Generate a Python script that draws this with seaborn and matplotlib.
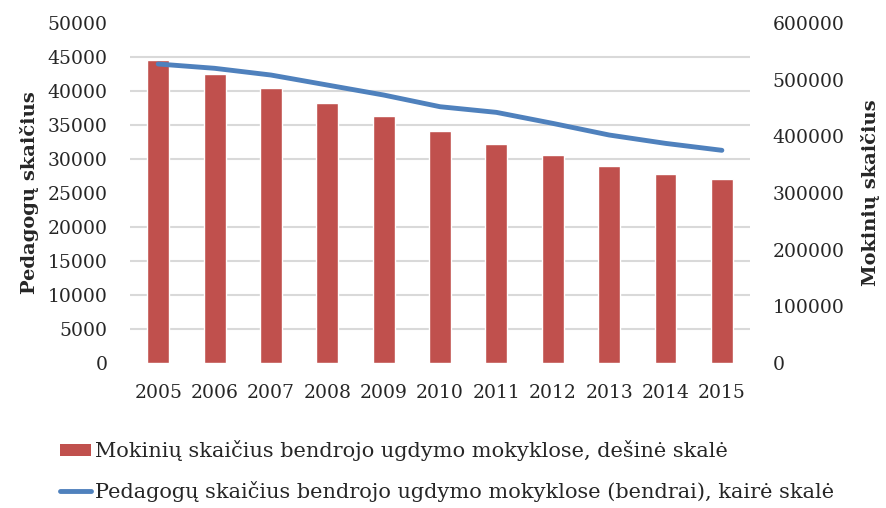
"""
Mokinių ir pedagogų skaičius bendrojo ugdymo mokyklose, 2005-2015
"""
import numpy as np
import pandas as pd
import matplotlib
matplotlib.use('Agg')
import matplotlib.pyplot as plt
from matplotlib.ticker import MultipleLocator
from matplotlib.patches import Patch
from matplotlib.lines import Line2D
import seaborn as sns

# duomenys
years = ['2005', '2006', '2007', '2008', '2009', '2010',
         '2011', '2012', '2013', '2014', '2015']
mokiniai = [534700, 510000, 484800, 458800, 435300, 409400,
            386500, 366500, 347600, 333500, 324200]
pedagogai = [43970, 43340, 42350, 40880, 39410, 37690,
             36860, 35240, 33530, 32300, 31280]

bar_label = 'Mokinių skaičius bendrojo ugdymo mokyklose, dešinė skalė'
line_label = 'Pedagogų skaičius bendrojo ugdymo mokyklose (bendrai), kairė skalė'

BAR_COLOR = '#C0504D'
LINE_COLOR = '#4F81BD'
GRID_COLOR = '#D9D9D9'

sns.set_style('white')
plt.rcParams['font.family'] = ['DejaVu Serif']

df = pd.DataFrame({'metai': years, 'mokiniai': mokiniai, 'pedagogai': pedagogai})
df['pos'] = np.arange(len(df))

fig = plt.figure(figsize=(8.87, 5.08), dpi=100)
ax = fig.add_axes([0.1466, 0.2854, 0.6990, 0.6693])

# stulpeliai - dešinė skalė
sns.barplot(data=df, x='metai', y='mokiniai', color=BAR_COLOR, width=0.39,
            saturation=1, ax=ax)
ax.set_ylim(0, 600000)
ax.set_xlim(-0.5, len(years) - 0.5)
ax.yaxis.set_major_locator(MultipleLocator(100000))
ax.yaxis.set_minor_locator(MultipleLocator(60000))
ax.grid(False)
ax.grid(True, which='minor', axis='y', color=GRID_COLOR, linewidth=1.5)
ax.set_axisbelow(True)
ax.set_xlabel('')

# linija - kairė skalė
ax2 = ax.twinx()
sns.lineplot(data=df, x='pos', y='pedagogai', color=LINE_COLOR, linewidth=3.5,
             solid_capstyle='round', ax=ax2)
ax2.set_ylim(0, 50000)
ax2.yaxis.set_major_locator(MultipleLocator(5000))
ax2.set_xlabel('')
ax2.set_xlim(-0.5, len(years) - 0.5)

# ašių pusės sukeičiamos po twinx
ax.yaxis.set_ticks_position('right')
ax.yaxis.set_label_position('right')
ax2.yaxis.set_ticks_position('left')
ax2.yaxis.set_label_position('left')
ax.set_ylabel('Mokinių skaičius', fontsize=14, fontweight='bold', labelpad=12)
ax2.set_ylabel('Pedagogų skaičius', fontsize=14, fontweight='bold', labelpad=6)

for a in (ax, ax2):
    for s in a.spines.values():
        s.set_visible(False)
    a.tick_params(axis='both', which='both', length=0, labelsize=13.5, pad=16)
ax.tick_params(axis='x', pad=15)

handles = [Patch(facecolor=BAR_COLOR, edgecolor='none'),
           Line2D([0], [0], color=LINE_COLOR, linewidth=3.5, solid_capstyle='round')]
fig.legend(handles, [bar_label, line_label], loc='lower left',
           bbox_to_anchor=(0.0676, 0.012), frameon=False, fontsize=15,
           handlelength=1.5, handleheight=0.5, handletextpad=0.2,
           labelspacing=0.95, borderpad=0, borderaxespad=0)

fig.savefig('out.png', dpi=100)
